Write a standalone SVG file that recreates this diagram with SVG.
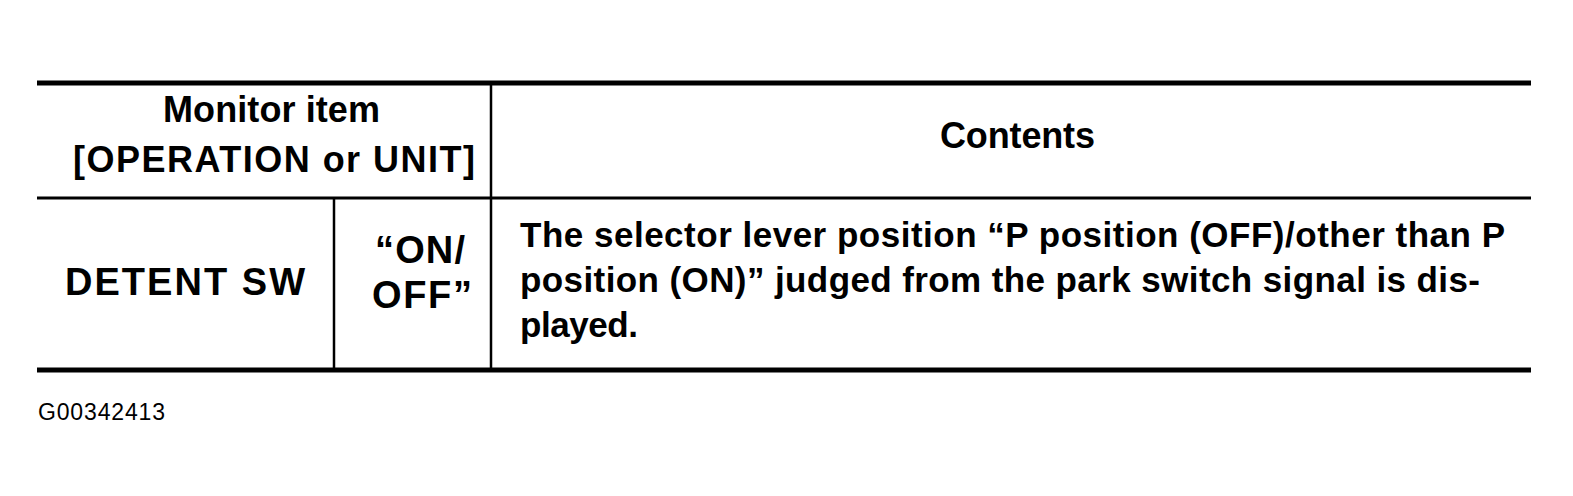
<svg xmlns="http://www.w3.org/2000/svg" width="1573" height="496" viewBox="0 0 1573 496">
<style>
.t{font-family:"Liberation Sans",Arial,sans-serif;font-weight:bold;font-size:36px;fill:#000}
.b{font-size:38px}
.s{font-size:35px}
.ln{stroke:#000;fill:none}
</style>
<rect width="1573" height="496" fill="#fff"/>
<g id="connectors">
<line class="ln" x1="37" y1="83" x2="1531" y2="83" stroke-width="5"/>
<line class="ln" x1="37" y1="198" x2="1531" y2="198" stroke-width="3"/>
<line class="ln" x1="37" y1="370" x2="1531" y2="370" stroke-width="5"/>
<line class="ln" x1="491" y1="83" x2="491" y2="370" stroke-width="2.5"/>
<line class="ln" x1="334" y1="198" x2="334" y2="370" stroke-width="2.5"/>
</g>
<g id="header-item">
<text class="t" x="163" y="122" textLength="217" lengthAdjust="spacing">Monitor item</text>
<text class="t" x="73" y="172" textLength="402" lengthAdjust="spacing">[OPERATION or UNIT]</text>
</g>
<g id="header-contents">
<text class="t" x="940" y="148" textLength="155" lengthAdjust="spacing">Contents</text>
</g>
<g id="item-name">
<text class="t b" x="65" y="295" textLength="240" lengthAdjust="spacing">DETENT  SW</text>
</g>
<g id="item-unit">
<text class="t b" x="375" y="263" textLength="90" lengthAdjust="spacing">“ON/</text>
<text class="t b" x="372" y="308" textLength="100" lengthAdjust="spacing">OFF”</text>
</g>
<g id="item-contents">
<text class="t s" x="520" y="247" textLength="985" lengthAdjust="spacing">The selector lever position “P position (OFF)/other than P</text>
<text class="t s" x="520" y="292" textLength="960" lengthAdjust="spacing">position (ON)” judged from the park switch signal is dis-</text>
<text class="t s" x="520" y="337" textLength="118" lengthAdjust="spacing">played.</text>
</g>
<g id="figure-id">
<text x="38" y="420" textLength="127" lengthAdjust="spacing" style="font-family:'Liberation Sans',Arial,sans-serif;font-size:23px;fill:#000">G00342413</text>
</g>
</svg>
